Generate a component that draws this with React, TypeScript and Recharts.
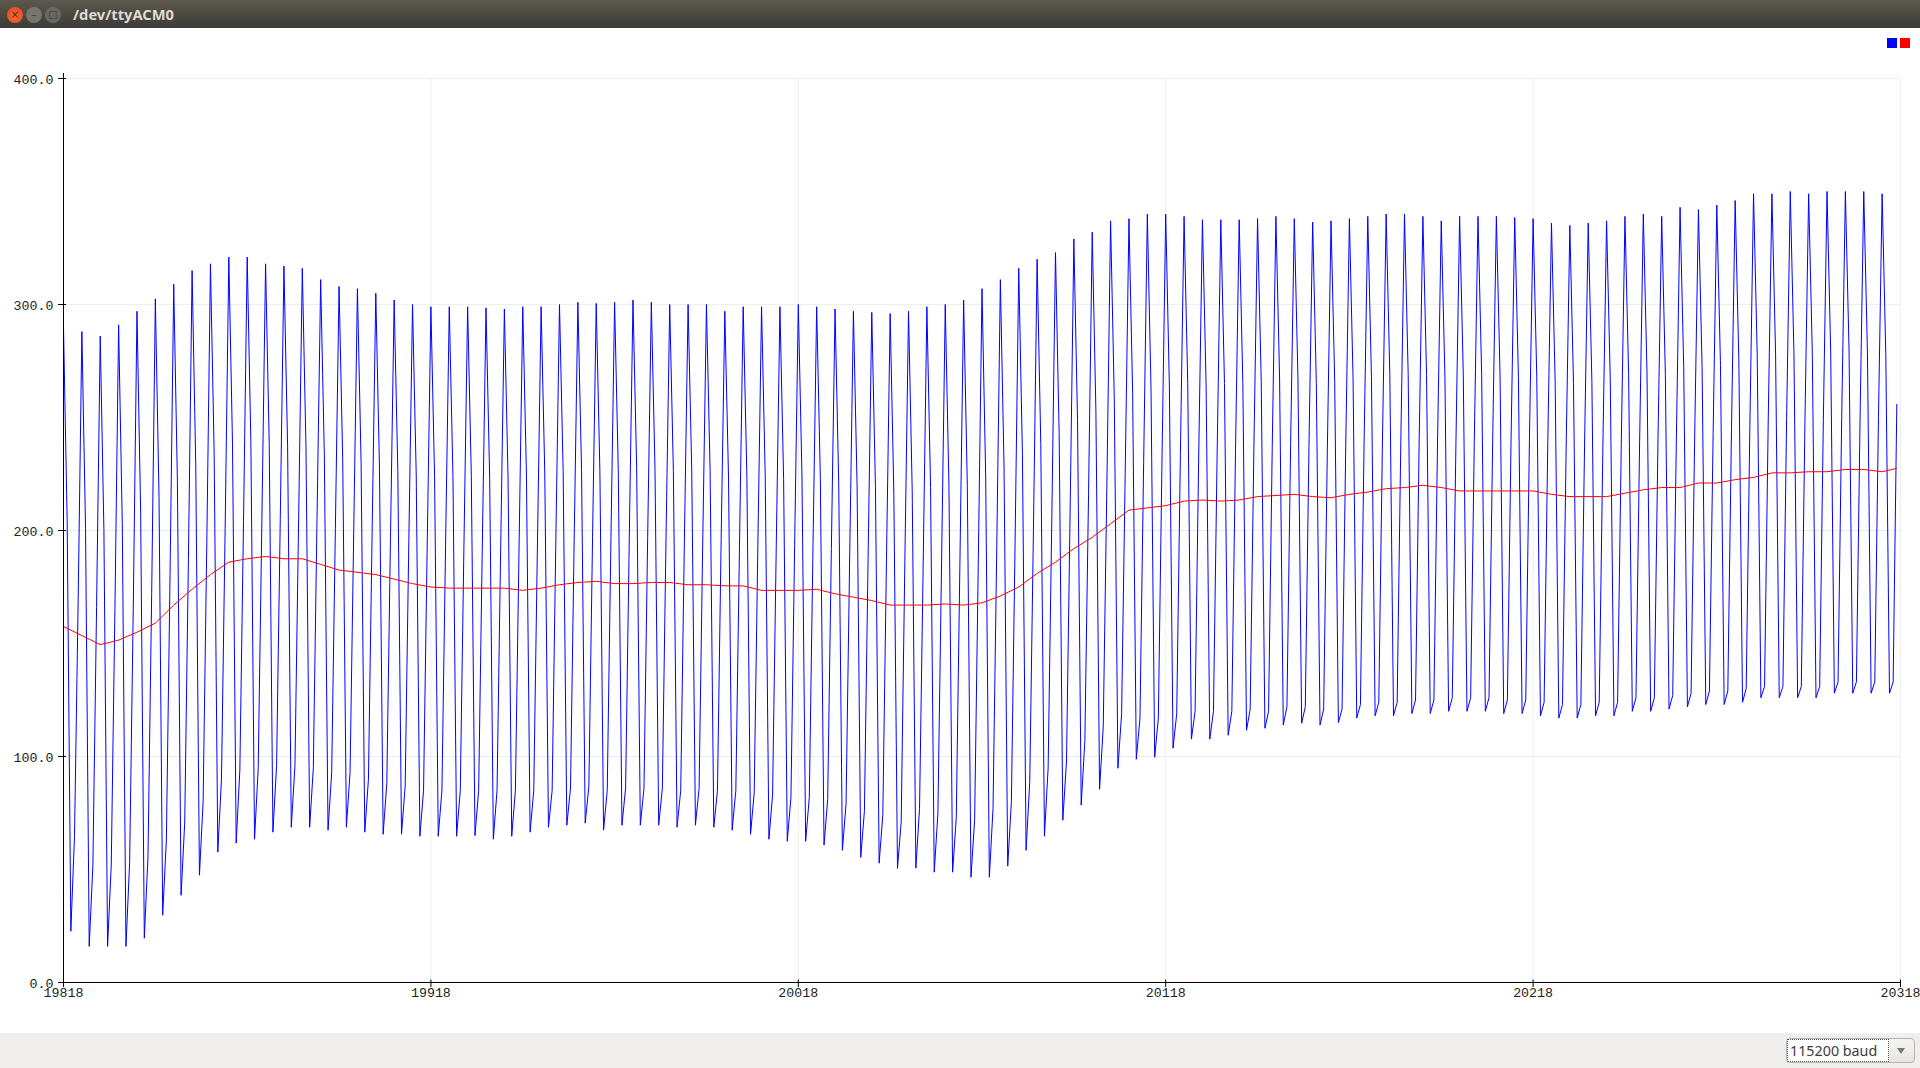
import React from "react";
import { LineChart, Line, XAxis, YAxis, CartesianGrid } from "recharts";

const xStart = 19818;
const xTicks = [19818, 19918, 20018, 20118, 20218, 20318];
const yTicks = [0, 100, 200, 300, 400];

// Blue series: each 5-sample cycle.
const peaks = [
  290,288,286,291,297,302.5,309,315,318,321,
  321,318,317,316,311,308,307,305,302,300,
  299,299,299,298.5,298,299,299,300,301,300.5,
  301,302,301,300,300,300,297,299,299,299,
  300,299,298,297,296.5,296,297,299,300,302,
  307,311,316,320,323,329,332,337,338,340,
  340,339,337.5,337.5,337.5,338,339,338,336.5,337,
  338,339,340,340,339,337,339,339,339,338.5,
  338,336,335,336,337,339,340,339,343,342,
  344,346,349,349,350,349,350,350,350,349,
];
const falls = [
  204,201,200,203,208,215,222,229,235,238,
  239,238,237,237,233,231,230,228,226,225,
  224,224,224,223,223,225,225,226,227,226,
  227,228,227,226,226,226,224,224,224,223,
  224,223,221,220,219,217,218,219,220,220,
  224,228,234,238,243,249,253,259,261,263,
  264,265,264,265,265,266,267,267,265,266,
  267,268,269,269,269,268,269,269,269,268,
  268,266,265,266,267,269,270,269,272,272,
  273,275,278,278,278,278,279,279,279,278,
];
const troughs = [
  22.7,16,16,16,19.6,29.8,38.6,47.5,57.7,61.7,
  63.4,66.5,68.7,68.7,67.4,68.7,66.5,65.6,65.6,64.7,
  64.7,64.7,65,63.4,64.7,66.5,68.7,69.6,70.5,67.4,
  69.6,69.6,69.6,68.7,69.6,68.7,67.4,65.6,63.4,62.5,
  62.5,60.8,58.5,55.4,52.8,50.5,50.6,48.8,48.8,46.6,
  46.6,51.5,58.5,64.7,71.8,78.5,85.5,94.8,98.8,99.7,
  103.7,107.7,107.7,109.4,111.6,112.5,113.9,114.7,113.9,115,
  117,118,118,119,119,120,120,120,119,119,
  118,117,117,118,118,120,120,121,122,123,
  123,124,126,126,126,126,128,128,128,128,
];
const lifts = [
  65,52,52,53,56,63,71,80,90,94,
  95,96,96,95,93,93,90,88,87,85,
  85,85,85,85,85,85,85,86,87,85,
  86,86,86,85,86,85,85,84,83,82,
  82,81,79,76,74,71,77,75,73,72,
  77,80,89,95,98,107,113,119,117,117,
  119,120,120,120,121,120,122,122,121,121,
  123,124,124,125,125,126,126,126,125,125,
  124,123,123,124,124,126,126,127,128,129,
  129,130,131,131,131,131,133,133,133,133,
];
const rises = [
  170,166,165,167,172,180,187,194,201,204,
  205,205,205,205,201,200,199,197,196,194,
  194,194,194,193,193,194,195,196,197,196,
  197,197,197,196,196,196,194,194,193,193,
  193,192,190,188,187,186,186,186,187,187,
  190,194,200,205,210,216,221,228,230,232,
  234,235,234,235,236,237,238,238,236,237,
  239,240,240,241,240,239,240,240,240,240,
  239,237,237,238,238,240,241,241,244,243,
  245,246,249,249,249,249,250,250,250,256,
];

// Red series: read once per cycle, plus its final point.
const smooth = [
  157.5,153.5,149.5,151.5,155,159,167,174,180.5,186,
  187.5,188.5,187.5,187.5,185,182.5,181.5,180.5,178.5,176.5,
  175,174.5,174.5,174.5,174.5,173.5,174.5,176,177,177.5,
  176.5,176.5,177,177,176,176,175.5,175.5,173.5,173.5,
  173.5,174,172,170.5,169,167,167,167,167.5,167,
  168,171,175,181,186,192,197,203,209,210,
  211,213,213.5,213,213.5,215,215.5,216,215,214.5,
  216,217,218.5,219,220,219,217.5,217.5,217.5,217.5,
  217.5,216,215,215,215,216.5,218,219,219,221,
  221,222.5,223.5,225.5,225.5,226,226,227,227,226,
];
const smoothLast = 227.5;

const rows: { x: number; blue: number; red?: number }[] = [];
peaks.forEach((p, k) => {
  const base = xStart + k * 5;
  rows.push({ x: base, blue: p, red: smooth[k] });
  rows.push({ x: base + 1, blue: falls[k] });
  rows.push({ x: base + 2, blue: troughs[k] });
  rows.push({ x: base + 3, blue: lifts[k] });
  rows.push({ x: base + 4, blue: rises[k] });
});
rows[rows.length - 1].red = smoothLast;

const labelFont = "'Liberation Mono', monospace";
const inkAxis = "#000000";
const inkLabel = "#222222";

function YTick(props: any) {
  const { x, y, payload } = props;
  return (
    <g>
      <line x1={x - 5.5} x2={x + 2.5} y1={y} y2={y} stroke={inkAxis} strokeWidth={1} />
      {payload.value === 400 && <line x1={x} x2={x} y1={y - 5.5} y2={y} stroke={inkAxis} strokeWidth={1} />}
      <text x={x - 10} y={y + 5.5} textAnchor="end" fontFamily={labelFont} fontSize={13.3} fill={inkLabel}>
        {payload.value.toFixed(1)}
      </text>
    </g>
  );
}

function XTick(props: any) {
  const { x, y, payload } = props;
  return (
    <g>
      <line x1={x} x2={x} y1={y - 3} y2={y + 4.5} stroke={inkAxis} strokeWidth={1} />
      <text x={x} y={y + 14} textAnchor="middle" fontFamily={labelFont} fontSize={13.3} fill={inkLabel}>
        {payload.value}
      </text>
    </g>
  );
}

const dotBase: React.CSSProperties = {
  position: "absolute",
  top: 7,
  width: 16,
  height: 16,
  borderRadius: 8,
  boxSizing: "border-box",
  textAlign: "center",
  lineHeight: "15px",
  fontFamily: "'DejaVu Sans', sans-serif",
  fontSize: 10,
};

export default function App() {
  return (
    <div style={{ position: "fixed", left: 0, top: 0, width: 1920, height: 1068, background: "#ffffff", overflow: "hidden" }}>
      <div style={{ position: "absolute", left: 0, top: 0 }}>
        <LineChart width={1920} height={1068} data={rows} margin={{ top: 78.5, right: 19.5, bottom: 0, left: 0 }}>
          <CartesianGrid stroke="#eeeeee" strokeWidth={1} horizontalValues={yTicks} verticalValues={xTicks} />
          <XAxis
            dataKey="x"
            type="number"
            domain={[xStart, 20318]}
            ticks={xTicks}
            interval={0}
            height={85.5}
            tickLine={false}
            tickSize={0}
            tickMargin={0}
            tick={<XTick />}
            axisLine={{ stroke: inkAxis, strokeWidth: 1 }}
          />
          <YAxis
            type="number"
            domain={[0, 400]}
            ticks={yTicks}
            interval={0}
            width={63.5}
            tickLine={false}
            tickSize={0}
            tickMargin={0}
            tick={<YTick />}
            axisLine={{ stroke: inkAxis, strokeWidth: 1 }}
          />
          <Line dataKey="blue" type="linear" stroke="#0000ff" strokeWidth={1} dot={false} isAnimationActive={false} />
          <Line dataKey="red" type="linear" stroke="#ff0000" strokeWidth={1} dot={false} connectNulls isAnimationActive={false} />
        </LineChart>
      </div>

      {/* series swatches */}
      <div style={{ position: "absolute", left: 1887, top: 38, width: 10, height: 10, background: "#0000ff" }} />
      <div style={{ position: "absolute", left: 1900, top: 38, width: 10, height: 10, background: "#ff0000" }} />

      {/* window title bar */}
      <div style={{ position: "absolute", left: 0, top: 0, width: 1920, height: 28, background: "linear-gradient(#5c584c, #3c3b37)" }}>
        <div style={{ ...dotBase, left: 7, background: "radial-gradient(circle at 50% 60%, #f4693a, #dd4814)", color: "#5a2008" }}>×</div>
        <div style={{ ...dotBase, left: 26, background: "#77756f", color: "#3c3b37" }}>–</div>
        <div style={{ ...dotBase, left: 45, background: "#6a6862", color: "#3c3b37" }}>□</div>
        <div style={{ position: "absolute", left: 73, top: 5, fontFamily: "'Noto Sans', sans-serif", fontWeight: 700, fontSize: 14.7, lineHeight: "18px", color: "#dfdbd2", whiteSpace: "nowrap" }}>
          /dev/ttyACM0
        </div>
      </div>

      {/* status bar with the baud selector */}
      <div style={{ position: "absolute", left: 0, top: 1033, width: 1920, height: 35, background: "#f0efed" }}>
        <div style={{ position: "absolute", left: 1786, top: 5, width: 129, height: 25, boxSizing: "border-box", border: "1px solid #b5b3ae", borderRadius: 4, background: "linear-gradient(#f6f5f3, #e6e5e2)" }}>
          <div style={{ position: "absolute", left: 0, top: 0, width: 102, height: 23, boxSizing: "border-box", border: "1px dotted #555", background: "#ffffff", fontFamily: "'Noto Sans', sans-serif", fontSize: 14.3, lineHeight: "21px", color: "#3c3c3c", paddingLeft: 2, whiteSpace: "nowrap" }}>
            115200 baud
          </div>
          <div style={{ position: "absolute", left: 110, top: 9, width: 0, height: 0, borderLeft: "4px solid transparent", borderRight: "4px solid transparent", borderTop: "6px solid #777" }} />
        </div>
      </div>
    </div>
  );
}
